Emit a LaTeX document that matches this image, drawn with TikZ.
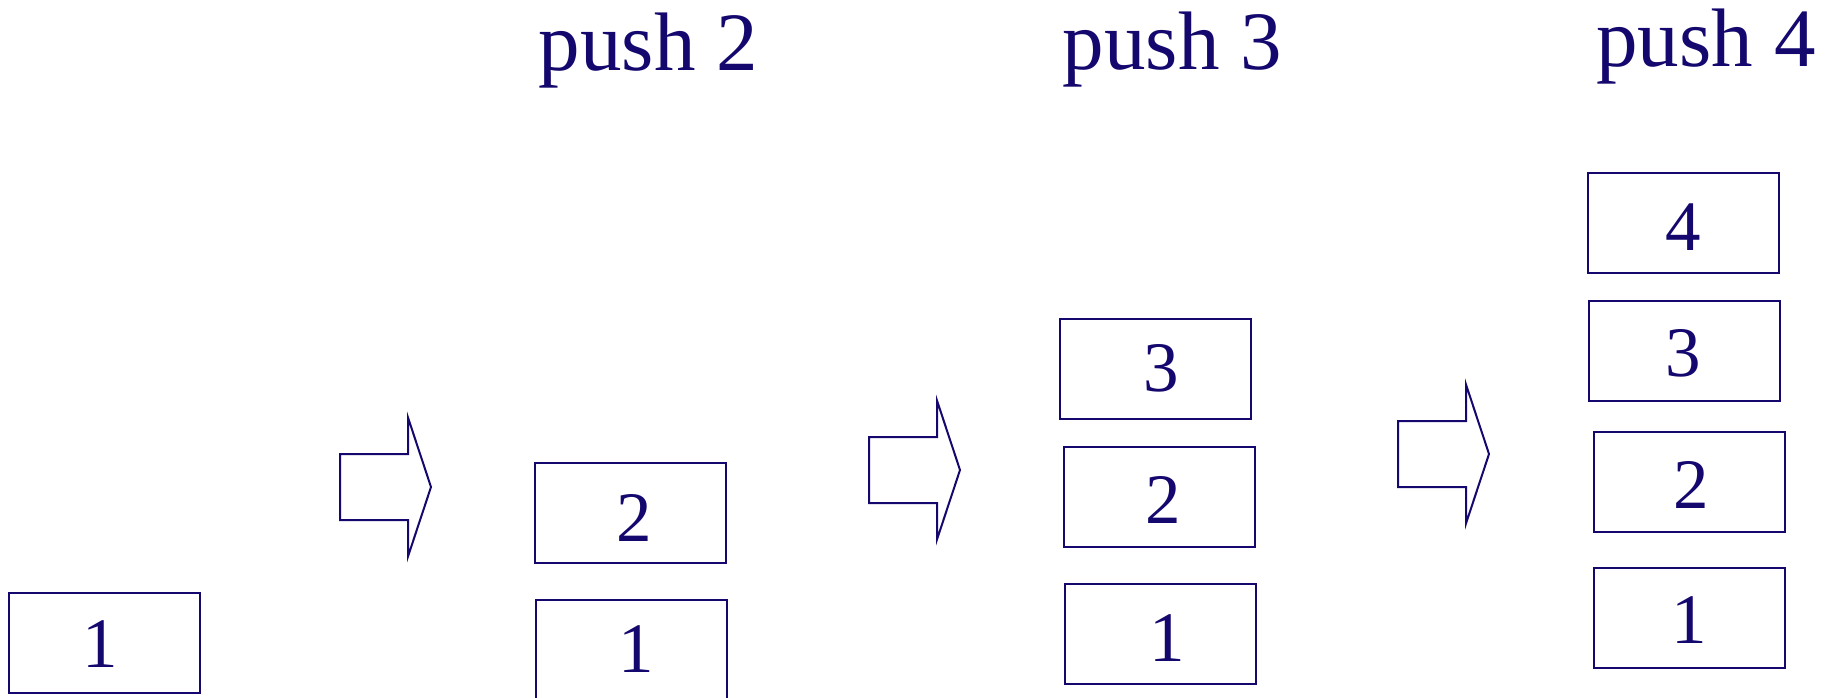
\documentclass[tikz,border=0pt]{standalone}
\usepackage{fontspec}
\setmainfont{Liberation Serif}
\definecolor{ink}{RGB}{20,8,110}
\begin{document}
\begin{tikzpicture}[x=1pt,y=-1pt,
  cell/.style={draw=ink,line width=2pt,minimum width=191pt,minimum height=100pt,inner sep=0pt},
  digit/.style={text=ink,inner sep=0pt,anchor=base,yshift=2pt,font=\fontsize{71}{80}\selectfont},
  caption/.style={text=ink,inner sep=0pt,anchor=base,font=\fontsize{83}{96}\selectfont},
  pusharrow/.pic={
    \draw[ink,line width=2pt,line join=miter]
      (-91,-33) -- (-23,-33) -- (-23,-69.5) -- (0,0) -- (-23,69.5) -- (-23,33) -- (-91,33) -- cycle;
  }]
\useasboundingbox (0,0) rectangle (1835,698);
\clip (0,0) rectangle (1835,698);

% stack holding 1
\node[cell] (a1) at (104.5,642.5) {};
\node[digit] (ta1) at (100,669) {1};

% push 2
\node[caption] (p2) at (648.5,71) {push 2};
\pic at (431,487) {pusharrow};
\node[cell] (b2) at (630.5,513) {};
\node[digit] (tb2) at (634,543) {2};
\node[cell] (b1) at (631.5,650) {};
\node[digit] (tb1) at (636,674) {1};

% push 3
\node[caption] (p3) at (1172.5,70) {push 3};
\pic at (960,470) {pusharrow};
\node[cell] (c3) at (1155.5,369) {};
\node[digit] (tc3) at (1161,393) {3};
\node[cell] (c2) at (1159.5,497) {};
\node[digit] (tc2) at (1163,525) {2};
\node[cell] (c1) at (1160.5,634) {};
\node[digit] (tc1) at (1167,663) {1};

% push 4
\node[caption] (p4) at (1706,67) {push 4};
\pic at (1489,454) {pusharrow};
\node[cell] (d4) at (1683.5,223) {};
\node[digit] (td4) at (1683,252) {4};
\node[cell] (d3) at (1684.5,351) {};
\node[digit] (td3) at (1683,378) {3};
\node[cell] (d2) at (1689.5,482) {};
\node[digit] (td2) at (1691,510) {2};
\node[cell] (d1) at (1689.5,618) {};
\node[digit] (td1) at (1689,645) {1};
\end{tikzpicture}
\end{document}
